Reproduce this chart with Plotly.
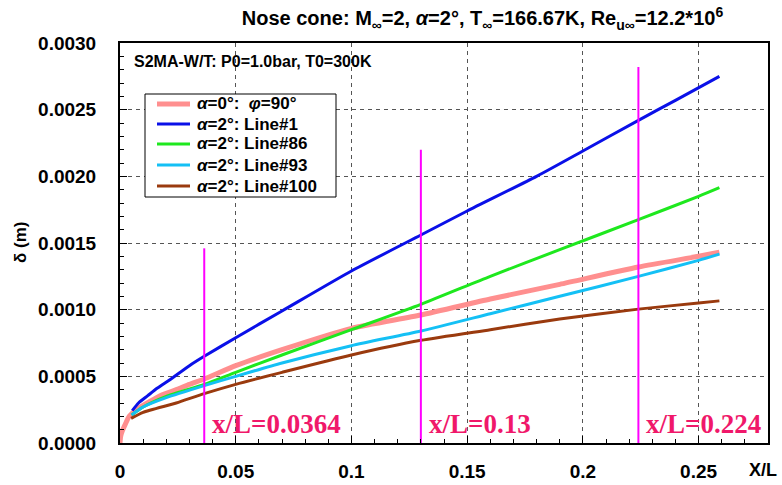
import plotly.graph_objects as go

# Boundary-layer thickness along the nose cone (x/L vs delta in metres)
x_a0 = [0, 0.0003, 0.001, 0.002, 0.004, 0.007, 0.0127, 0.018, 0.0243, 0.03, 0.0364,
        0.05, 0.07, 0.1, 0.13, 0.16, 0.19, 0.224, 0.25, 0.259]
d_a0 = [0, 0.00005, 0.00009, 0.00013, 0.0002, 0.00025, 0.00031, 0.00036, 0.0004, 0.00044, 0.00048,
        0.00058, 0.0007, 0.00086, 0.00096, 0.00108, 0.00119, 0.00132, 0.0014, 0.00143]

x_l1 = [0.0053, 0.008, 0.012, 0.016, 0.0214, 0.03, 0.0364, 0.05, 0.07, 0.1, 0.13,
        0.15, 0.18, 0.2, 0.224, 0.24, 0.259]
d_l1 = [0.000243, 0.0003, 0.000355, 0.00041, 0.000473, 0.00058, 0.00065, 0.00079, 0.00099, 0.00129, 0.00156,
        0.00174, 0.002, 0.00219, 0.00242, 0.00257, 0.00275]

x_l86 = [0.005, 0.01, 0.02, 0.0364, 0.05, 0.07, 0.1, 0.13, 0.16, 0.19, 0.224, 0.25, 0.259]
d_l86 = [0.00021, 0.00027, 0.00035, 0.00044, 0.00053, 0.00066, 0.00085, 0.00104, 0.00125, 0.00145,
         0.001675, 0.00185, 0.001915]

x_l93 = [0.005, 0.01, 0.02, 0.0364, 0.05, 0.07, 0.1, 0.13, 0.16, 0.19, 0.224, 0.25, 0.259]
d_l93 = [0.00021, 0.00027, 0.00034, 0.00043, 0.0005, 0.0006, 0.00073, 0.00084, 0.00097, 0.0011,
         0.00125, 0.00137, 0.001417]

x_l100 = [0.0048, 0.01, 0.0243, 0.0364, 0.05, 0.07, 0.1, 0.13, 0.16, 0.19, 0.224, 0.25, 0.259]
d_l100 = [0.000185, 0.00023, 0.0003, 0.00037, 0.00044, 0.00053, 0.00066, 0.00077, 0.00085, 0.00093,
          0.001004, 0.00105, 0.001066]

series_names = ["<i>α</i>=0°:  <i>φ</i>=90°", "<i>α</i>=2°: Line#1", "<i>α</i>=2°: Line#86",
                "<i>α</i>=2°: Line#93", "<i>α</i>=2°: Line#100"]

# Measurement stations
stations = [0.0364, 0.13, 0.224]
station_tops = [0.00146, 0.0022, 0.00282]
station_labels = ["x/L=0.0364", "x/L=0.13", "x/L=0.224"]

SANS = "Liberation Sans"
SERIF = "Liberation Serif"

# Figure geometry (pixels) used to place the boxed key in paper coordinates
W, H = 782, 485
ML, MR, MT, MB = 120, 14, 43, 42
PW, PH = W - ML - MR, H - MT - MB


def px(xp):
    return (xp - ML) / PW


def py(yp):
    return (H - MB - yp) / PH


fig = go.Figure()

styles = [("#ff8f8f", 5), ("#0a10e8", 3), ("#1ee81e", 3), ("#14c0f5", 3), ("#9a3a0e", 3)]
data = [(x_a0, d_a0), (x_l1, d_l1), (x_l86, d_l86), (x_l93, d_l93), (x_l100, d_l100)]

for (xs, ys), name, (color, width) in zip(data, series_names, styles):
    fig.add_trace(go.Scatter(x=xs, y=ys, mode="lines", name=name, showlegend=False,
                             line=dict(color=color, width=width, shape="spline", smoothing=0.6)))

for xs, top, label in zip(stations, station_tops, station_labels):
    fig.add_trace(go.Scatter(x=[xs, xs], y=[0, top], mode="lines", showlegend=False,
                             line=dict(color="#ff00ff", width=2), hoverinfo="skip"))
    fig.add_annotation(x=xs, y=0.00014, text=label, showarrow=False, xanchor="left",
                       yanchor="middle", xshift=6,
                       font=dict(family=SERIF, size=27, color="#f0186a", weight="bold"))

# Boxed key with compact rows
box_l, box_r, box_t, box_b = 145, 336, 94, 197
fig.add_shape(type="rect", xref="paper", yref="paper",
              x0=px(box_l), x1=px(box_r), y0=py(box_b), y1=py(box_t),
              line=dict(color="black", width=1), fillcolor="white", layer="above")
row_y = [104, 124, 144, 165, 186]
for yrow, name, (color, width) in zip(row_y, series_names, styles):
    fig.add_shape(type="line", xref="paper", yref="paper",
                  x0=px(157), x1=px(190), y0=py(yrow), y1=py(yrow),
                  line=dict(color=color, width=width), layer="above")
    fig.add_annotation(xref="paper", yref="paper", x=px(195), y=py(yrow),
                       xanchor="left", yanchor="middle", text=name, showarrow=False,
                       font=dict(family=SANS, size=17, color="black", weight="bold"))

fig.add_annotation(xref="paper", yref="paper", x=px(132), y=py(51), xanchor="left", yanchor="top",
                   text="S2MA-W/T: P0=1.0bar, T0=300K", showarrow=False,
                   font=dict(family=SANS, size=16, color="black", weight="bold"))

fig.add_annotation(xref="paper", yref="paper", x=px(763), y=py(470), xanchor="center",
                   yanchor="middle", text="X/L", showarrow=False,
                   font=dict(family=SANS, size=18, color="black", weight="bold"))

fig.add_annotation(xref="paper", yref="paper", x=px(20), y=py(243), xanchor="center",
                   yanchor="middle", text="δ (m)", textangle=-90, showarrow=False,
                   font=dict(family=SANS, size=17, color="black", weight="bold"))

fig.update_layout(
    width=W, height=H,
    margin=dict(l=ML, r=MR, t=MT, b=MB),
    paper_bgcolor="white", plot_bgcolor="white",
    title=dict(text="Nose cone: M<sub>∞</sub>=2, <i>α</i>=2°, T<sub>∞</sub>=166.67K, "
                    "Re<sub>u∞</sub>=12.2*10<sup>6</sup>",
               xref="container", yref="container", x=0.617, y=0.962,
               xanchor="center", yanchor="middle",
               font=dict(family=SANS, size=20, color="black", weight="bold")),
    showlegend=False,
)

axis_common = dict(
    showline=True, linecolor="black", linewidth=2, mirror=True, automargin=False,
    ticks="inside", tickcolor="black", ticklen=7, tickwidth=1,
    showgrid=True, gridcolor="#555555", griddash="4px,4px", gridwidth=1,
    zeroline=False,
    tickfont=dict(family=SANS, size=19, color="black", weight="bold"),
)

fig.update_xaxes(range=[0, 0.28], dtick=0.05, tick0=0, ticklabelstandoff=10,
                 minor=dict(dtick=0.01, ticks="inside", ticklen=4, tickcolor="black",
                            showgrid=False),
                 **axis_common)
fig.update_yaxes(range=[0, 0.003], dtick=0.0005, tick0=0, tickformat=".4f",
                 ticklabelstandoff=18,
                 minor=dict(dtick=0.0001, ticks="inside", ticklen=4, tickcolor="black",
                            showgrid=False),
                 **axis_common)

fig.write_html("out.html")
